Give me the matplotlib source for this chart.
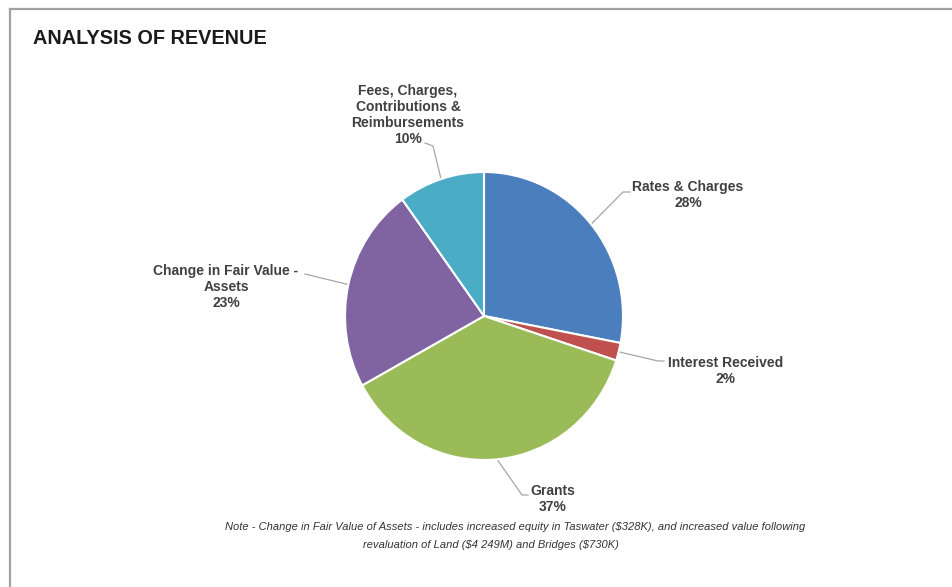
import numpy as np
import matplotlib.pyplot as plt

labels = ['Rates & Charges', 'Interest Received', 'Grants',
          'Change in Fair Value -\nAssets', 'Fees, Charges,\nContributions &\nReimbursements']
shares = [28, 2, 37, 23, 10]
colors = ['#4a7ebd', '#c0504d', '#9bbb59', '#8064a2', '#4bacc6']

title = 'ANALYSIS OF REVENUE'
note_lines = ['Note - Change in Fair Value of Assets - includes increased equity in Taswater (\\$328K), and increased value following',
              'revaluation of Land (\\$4 249M) and Bridges (\\$730K)']

W, H = 953, 587
cx, cy, rx, ry = 484, 316, 139, 144   # pie centre / radii in pixels

# label text centres and leader elbow points (pixels, y down)
label_pos = [(688, 195), (726, 371), (553, 499), (226, 287), (408, 115)]
elbows = [[(623, 192), (630, 192)],
          [(658, 361), (664, 361)],
          [(522, 495), (528, 495)],
          [(305, 274)],
          [(433, 146), (425, 143)]]

plt.rcParams['font.family'] = ['Liberation Sans', 'DejaVu Sans']

fig = plt.figure(figsize=(W / 100, H / 100), dpi=100)
bg = fig.add_axes([0, 0, 1, 1])
bg.set_xlim(0, W)
bg.set_ylim(H, 0)
bg.axis('off')

# frame lines (top and left)
bg.plot([10, W], [9, 9], color='#a0a0a0', lw=1.6, clip_on=False)
bg.plot([10, 10], [9, H], color='#a0a0a0', lw=1.6, clip_on=False)

bg.text(33, 38, title, fontsize=14.3, fontweight='bold', color='#1a1a1a', ha='left', va='center')

ax = fig.add_axes([(cx - rx) / W, (H - cy - ry) / H, 2 * rx / W, 2 * ry / H])
wedges, _ = ax.pie(shares, colors=colors, startangle=90, counterclock=False, radius=1,
                   wedgeprops=dict(edgecolor='white', linewidth=1.5))
ax.set_aspect('auto')
ax.set_xlim(-1, 1)
ax.set_ylim(-1, 1)
ax.axis('off')

for w, lab, pos, elb, val in zip(wedges, labels, label_pos, elbows, shares):
    mid = np.deg2rad((w.theta1 + w.theta2) / 2)
    ax_pt = (cx + rx * np.cos(mid), cy - ry * np.sin(mid))
    pts = [ax_pt] + elb
    bg.plot([p[0] for p in pts], [p[1] for p in pts], color='#a6a6a6', lw=0.9)
    bg.text(pos[0], pos[1], f'{lab}\n{val}%', fontsize=10, fontweight='bold', color='#404040',
            ha='center', va='center', linespacing=1.2)

note_font = ['Liberation Sans Narrow', 'Liberation Sans', 'DejaVu Sans']
bg.text(515, 527, note_lines[0], fontsize=8, style='italic', family=note_font, color='#333333',
        ha='center', va='center')
bg.text(491, 545, note_lines[1], fontsize=8, style='italic', family=note_font, color='#333333',
        ha='center', va='center')

fig.savefig('out.png', dpi=100)
